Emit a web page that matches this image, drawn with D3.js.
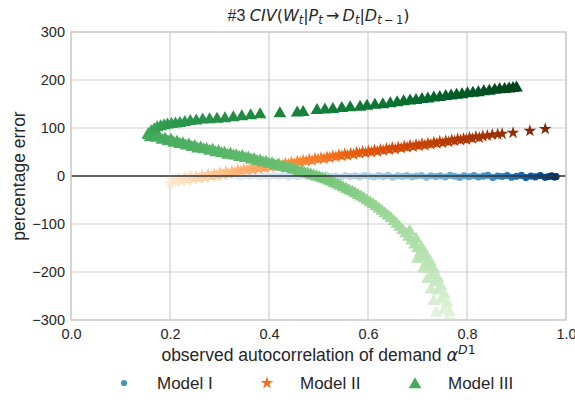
<!DOCTYPE html>
<html>
<head>
<meta charset="utf-8">
<script src="https://cdn.jsdelivr.net/npm/d3@7"></script>
<style>
  html, body { margin: 0; padding: 0; background: #ffffff; }
  svg { display: block; }
</style>
</head>
<body>
<svg id="chart" width="575" height="400"></svg>
<script>
// Percentage error of each model against the observed lag-1 autocorrelation of demand.
const xTicks = [0.0, 0.2, 0.4, 0.6, 0.8, 1.0];
const yTicks = [300, 200, 100, 0, -100, -200, -300];
const seriesNames = ["Model I", "Model II", "Model III"];

// Model I: [observed autocorrelation, percentage error]
const modelI = [
  [0.200,-1.5],[0.209,0.8],[0.219,-2.1],[0.228,0.4],[0.238,-0.9],[0.247,1.6],[0.257,-1.8],[0.266,0.2],
  [0.276,-0.6],[0.286,1.1],[0.295,-2.4],[0.305,0.5],[0.314,-1.1],[0.324,1.3],[0.334,-0.3],[0.343,-1.9],
  [0.353,0.9],[0.362,-0.7],[0.372,1.4],[0.382,-2.2],[0.391,0.1],[0.401,-1.3],[0.410,0.7],[0.420,-0.4],
  [0.430,1.0],[0.439,-2.0],[0.449,0.3],[0.458,-1.6],[0.468,1.2],[0.478,-0.8],[0.487,-2.3],[0.497,0.6],
  [0.506,-0.2],[0.516,1.5],[0.526,-1.4],[0.535,0.0],[0.545,-2.6],[0.554,0.9],[0.564,-1.0],[0.574,0.4],
  [0.583,-1.7],[0.593,1.1],[0.602,-0.5],[0.612,-2.1],[0.622,0.7],[0.631,-1.2],[0.641,1.3],[0.650,-2.5],
  [0.660,0.2],[0.670,-0.9],[0.679,0.8],[0.689,-1.8],[0.698,-0.1],[0.708,1.0],[0.718,-2.7],[0.727,0.5],
  [0.737,-1.3],[0.746,0.3],[0.756,-2.0],[0.766,1.2],[0.775,-0.6],[0.785,-2.9],[0.794,0.6],[0.804,-1.5],
  [0.814,0.9],[0.823,-2.2],[0.833,-0.3],[0.842,1.4],[0.852,-3.1],[0.862,0.1],[0.871,-1.1],[0.881,0.8],
  [0.890,-2.6],[0.900,-0.7],[0.910,1.3],[0.919,-3.3],[0.929,-0.2],[0.938,-1.9],[0.948,0.9],[0.958,-2.8],
  [0.965,-1.0],[0.971,0.4],[0.976,-2.3],[0.980,-1.4]
];

// Model II
const modelII = [
  [0.200,-16],[0.205,-8],[0.211,-13],[0.217,-5],[0.223,-11],[0.229,-3],[0.235,-9],[0.241,-1],
  [0.247,-7],[0.253,0],[0.259,-5],[0.265,2],[0.271,-3],[0.277,4],[0.283,-1],[0.289,5],
  [0.295,1],[0.301,7],[0.307,3],[0.313,9],[0.319,5],[0.325,10],[0.331,7],[0.337,13],
  [0.343,10],[0.349,14],[0.355,12],[0.361,16],[0.367,13],[0.373,18],[0.379,15],[0.385,19],
  [0.391,17],[0.397,21],[0.403,19],[0.409,23],[0.415,20],[0.421,25],[0.427,22],[0.433,27],
  [0.439,25],[0.445,29],[0.451,26],[0.457,31],[0.463,29],[0.469,33],[0.475,31],[0.481,35],
  [0.487,32],[0.493,37],[0.499,35],[0.505,38],[0.511,36],[0.517,40],[0.523,38],[0.529,42],
  [0.535,40],[0.541,44],[0.547,42],[0.553,46],[0.559,43],[0.565,47],[0.571,45],[0.577,49],
  [0.583,47],[0.589,51],[0.595,48],[0.601,52],[0.607,50],[0.613,54],[0.619,51],[0.625,55],
  [0.631,53],[0.637,57],[0.643,55],[0.649,59],[0.655,56],[0.661,60],[0.667,58],[0.673,62],
  [0.679,60],[0.685,64],[0.691,61],[0.697,65],[0.703,63],[0.709,67],[0.715,64],[0.721,68],
  [0.727,66],[0.733,70],[0.739,68],[0.745,72],[0.751,69],[0.757,73],[0.763,71],[0.769,75],
  [0.775,73],[0.781,77],[0.787,75],[0.793,78],[0.799,76],[0.805,80],[0.811,78],[0.818,82],
  [0.825,80],[0.832,83],[0.841,84],[0.851,86],[0.862,87],[0.871,88],[0.893,90],[0.927,94],
  [0.958,98]
];

// Model III, branch that falls below zero (ordered from the turning point downwards)
const modelIIILower = [
  [0.156,88],[0.160,84],[0.166,86],[0.172,82],[0.178,84],[0.184,78],[0.190,80],[0.196,75],
  [0.202,78],[0.208,72],[0.214,74],[0.220,69],[0.226,71],[0.232,66],[0.238,68],[0.244,63],
  [0.250,65],[0.256,60],[0.262,62],[0.268,58],[0.274,59],[0.280,55],[0.286,57],[0.292,52],
  [0.298,54],[0.304,50],[0.310,51],[0.316,47],[0.322,49],[0.328,45],[0.334,46],[0.340,42],
  [0.346,44],[0.352,40],[0.358,41],[0.364,37],[0.370,38],[0.376,34],[0.382,35],[0.388,31],
  [0.394,32],[0.400,28],[0.406,29],[0.412,25],[0.418,26],[0.424,22],[0.430,23],[0.436,19],
  [0.442,20],[0.448,16],[0.454,16],[0.460,12],[0.466,12],[0.472,9],[0.478,8],[0.484,6],
  [0.490,4],[0.496,2],[0.502,0],[0.508,-2],[0.514,-4],[0.520,-7],[0.526,-9],[0.532,-12],
  [0.538,-15],[0.544,-18],[0.550,-21],[0.556,-24],[0.562,-27],[0.568,-30],[0.574,-33],[0.580,-37],
  [0.586,-40],[0.592,-44],[0.598,-48],[0.604,-52],[0.610,-56],[0.616,-60],[0.622,-65],[0.628,-70],
  [0.634,-75],[0.640,-80],[0.646,-85],[0.652,-91],[0.658,-97],[0.664,-103],[0.670,-110],[0.684,-112],
  [0.676,-117],[0.682,-124],[0.697,-128],[0.688,-132],[0.694,-140],[0.708,-146],[0.700,-148],[0.706,-157],
  [0.716,-160],[0.712,-167],[0.700,-170],[0.726,-176],[0.718,-178],[0.724,-190],[0.712,-190],[0.733,-192],
  [0.730,-204],[0.741,-210],[0.720,-212],[0.736,-219],[0.747,-226],[0.727,-234],[0.742,-236],[0.754,-244],
  [0.748,-255],[0.733,-258],[0.760,-262],[0.754,-276],[0.765,-281],[0.738,-282],[0.760,-298],[0.770,-300],
  [0.742,-305],[0.766,-322]
];

// Model III, branch that stays above zero (ordered from the turning point to the right)
const modelIIIUpper = [
  [0.156,90],[0.162,96],[0.168,100],[0.174,104],[0.181,106],[0.188,108],[0.195,110],[0.203,111],
  [0.211,112],[0.220,113],[0.230,115],[0.241,117],[0.253,118],[0.266,120],[0.280,121],[0.295,122],
  [0.311,123],[0.328,125],[0.345,127],[0.363,129],[0.382,131],[0.422,133],[0.457,135],[0.469,136],
  [0.497,140],[0.513,141],[0.529,142],[0.547,144],[0.564,146],[0.584,147],[0.598,149],[0.614,151],
  [0.630,152],[0.645,154],[0.659,156],[0.672,158],[0.685,160],[0.697,161],[0.709,163],[0.721,164],
  [0.733,166],[0.745,167],[0.757,169],[0.768,170],[0.779,172],[0.790,173],[0.801,175],[0.812,176],
  [0.823,177],[0.834,179],[0.845,180],[0.856,182],[0.866,183],[0.876,184],[0.885,185],[0.893,186],
  [0.900,187]
];

const W = 575, H = 400;
const margin = { left: 71, right: 9, top: 32, bottom: 80 };
const svg = d3.select("#chart");

const x = d3.scaleLinear().domain([0, 1]).range([margin.left, W - margin.right]);
const y = d3.scaleLinear().domain([-300, 300]).range([H - margin.bottom, margin.top]);

const TICK_FONT = "'Liberation Sans', Arial, sans-serif";
const MATH_FONT = "'DejaVu Sans', sans-serif";
const textColor = "#262626";
const gridColor = "#cfcfcf";

// Colour ramps along each series
const blueT = d3.scaleLinear().domain([0.2, 0.42, 0.65, 0.8, 0.9, 0.98]).range([0, 0.17, 0.38, 0.56, 0.76, 1]).clamp(true);
const orangeT = d3.scaleLinear().domain([0.2, 0.3, 0.45, 0.6, 0.8, 0.96]).range([0.1, 0.3, 0.5, 0.7, 0.87, 1]).clamp(true);
const greenUpperT = d3.scaleLinear().domain([0.156, 0.2, 0.4, 0.66, 0.9]).range([0.63, 0.7, 0.77, 0.85, 1]).clamp(true);
const greenLowerT = d3.scaleLinear().domain([90, 0, -65, -200, -300]).range([0.63, 0.49, 0.39, 0.26, 0.12]).clamp(true);

// Marker shapes
const triangleUp = {
  draw(ctx, size) {
    const s = Math.sqrt(size);
    ctx.moveTo(0, -s * 0.5);
    ctx.lineTo(s * 0.55, s * 0.45);
    ctx.lineTo(-s * 0.55, s * 0.45);
    ctx.closePath();
  }
};
const circleSym = d3.symbol().type(d3.symbolCircle).size(40)();
const starSym = d3.symbol().type(d3.symbolStar).size(50)();
const triSym = d3.symbol().type(triangleUp).size(134)();

// Plot frame
svg.append("rect").attr("x", 0).attr("y", 0).attr("width", W).attr("height", H).attr("fill", "#ffffff");

const gridG = svg.append("g");
gridG.selectAll("line.vx").data(xTicks).join("line")
  .attr("x1", d => x(d)).attr("x2", d => x(d))
  .attr("y1", y(300)).attr("y2", y(-300))
  .attr("stroke", gridColor).attr("stroke-width", 1.2);
gridG.selectAll("line.hy").data(yTicks).join("line")
  .attr("x1", x(0)).attr("x2", x(1))
  .attr("y1", d => y(d)).attr("y2", d => y(d))
  .attr("stroke", gridColor).attr("stroke-width", 1.2);

svg.append("clipPath").attr("id", "plotClip").append("rect")
  .attr("x", x(0)).attr("y", y(300)).attr("width", x(1) - x(0)).attr("height", y(-300) - y(300));

const marks = svg.append("g").attr("clip-path", "url(#plotClip)");

marks.append("g").selectAll("path").data(modelI).join("path")
  .attr("d", circleSym)
  .attr("transform", d => `translate(${x(d[0])},${y(d[1])})`)
  .attr("fill", d => d3.interpolateBlues(blueT(d[0])));

marks.append("g").selectAll("path").data(modelII).join("path")
  .attr("d", starSym)
  .attr("transform", d => `translate(${x(d[0])},${y(d[1])})`)
  .attr("fill", d => d3.interpolateOranges(orangeT(d[0])));

// lower branch first (lighter), then the darker upper branch on top
marks.append("g").selectAll("path").data(modelIIILower.slice().reverse()).join("path")
  .attr("d", triSym)
  .attr("transform", d => `translate(${x(d[0])},${y(d[1])})`)
  .attr("fill", d => d3.interpolateGreens(greenLowerT(d[1])));

marks.append("g").selectAll("path").data(modelIIIUpper).join("path")
  .attr("d", triSym)
  .attr("transform", d => `translate(${x(d[0])},${y(d[1])})`)
  .attr("fill", d => d3.interpolateGreens(greenUpperT(d[0])));

// zero reference line
svg.append("line")
  .attr("x1", x(0)).attr("x2", x(1)).attr("y1", y(0)).attr("y2", y(0))
  .attr("stroke", "#333333").attr("stroke-width", 1.5);

// spines
svg.append("rect")
  .attr("x", x(0)).attr("y", y(300)).attr("width", x(1) - x(0)).attr("height", y(-300) - y(300))
  .attr("fill", "none").attr("stroke", gridColor).attr("stroke-width", 1.5);

// axes (tick labels only; lines are the grid above)
const fmtY = d => d < 0 ? "\u2212" + Math.abs(d) : String(d);
const xAxis = d3.axisBottom(x).tickValues(xTicks).tickFormat(d3.format(".1f")).tickSize(0).tickPadding(9);
const yAxis = d3.axisLeft(y).tickValues(yTicks).tickFormat(fmtY).tickSize(0).tickPadding(6);

const gx = svg.append("g").attr("transform", `translate(0,${y(-300)})`).call(xAxis);
const gy = svg.append("g").attr("transform", `translate(${x(0)},0)`).call(yAxis);
[gx, gy].forEach(g => {
  g.select(".domain").remove();
  g.selectAll("text").attr("font-family", TICK_FONT).attr("font-size", 14.5).attr("fill", textColor);
});

// title
const title = svg.append("text")
  .attr("x", (x(0) + x(1)) / 2).attr("y", 21)
  .attr("text-anchor", "middle").attr("font-size", 16).attr("fill", textColor);
const tParts = [
  ["#3 ", TICK_FONT, "normal", 0, 16],
  ["CIV", MATH_FONT, "italic", 0, 16],
  ["(", MATH_FONT, "normal", 0, 16],
  ["W", MATH_FONT, "italic", 0, 16],
  ["t", MATH_FONT, "italic", 3, 11.5],
  ["|", MATH_FONT, "normal", -3, 16],
  ["P", MATH_FONT, "italic", 0, 16],
  ["t", MATH_FONT, "italic", 3, 11.5],
  ["\u2009\u2192\u2009", MATH_FONT, "normal", -3, 16],
  ["D", MATH_FONT, "italic", 0, 16],
  ["t", MATH_FONT, "italic", 3, 11.5],
  ["|", MATH_FONT, "normal", -3, 16],
  ["D", MATH_FONT, "italic", 0, 16],
  ["t", MATH_FONT, "italic", 3, 11.5],
  ["\u2009\u2212\u20091", MATH_FONT, "normal", 0, 11.5],
  [")", MATH_FONT, "normal", -3, 16]
];
tParts.forEach(p => {
  title.append("tspan").text(p[0]).attr("font-family", p[1]).attr("font-style", p[2])
    .attr("dy", p[3]).attr("font-size", p[4]);
});

// x label
const xl = svg.append("text")
  .attr("x", (x(0) + x(1)) / 2).attr("y", 361)
  .attr("text-anchor", "middle").attr("fill", textColor).attr("font-size", 17.5);
xl.append("tspan").text("observed autocorrelation of demand ").attr("font-family", TICK_FONT);
xl.append("tspan").text("\u03b1").attr("font-family", MATH_FONT).attr("font-style", "italic");
xl.append("tspan").text("D").attr("font-family", MATH_FONT).attr("font-style", "italic").attr("font-size", 12.5).attr("dy", -7);
xl.append("tspan").text("1").attr("font-family", MATH_FONT).attr("font-size", 12.5);

// y label
svg.append("text")
  .attr("transform", `translate(25,${y(0)}) rotate(-90)`)
  .attr("text-anchor", "middle").attr("fill", textColor)
  .attr("font-family", TICK_FONT).attr("font-size", 17.5)
  .text("percentage error");

// legend
const legendItems = [
  { name: seriesNames[0], sym: d3.symbol().type(d3.symbolCircle).size(30)(), color: d3.interpolateBlues(0.62), mx: 124, tx: 157 },
  { name: seriesNames[1], sym: starSym, color: d3.interpolateOranges(0.6), mx: 267, tx: 300 },
  { name: seriesNames[2], sym: triSym, color: d3.interpolateGreens(0.62), mx: 415, tx: 448 }
];
const lg = svg.append("g");
legendItems.forEach(it => {
  lg.append("path").attr("d", it.sym).attr("transform", `translate(${it.mx},383)`).attr("fill", it.color);
  lg.append("text").attr("x", it.tx).attr("y", 389)
    .attr("font-family", TICK_FONT).attr("font-size", 17).attr("fill", textColor).text(it.name);
});
</script>
</body>
</html>
